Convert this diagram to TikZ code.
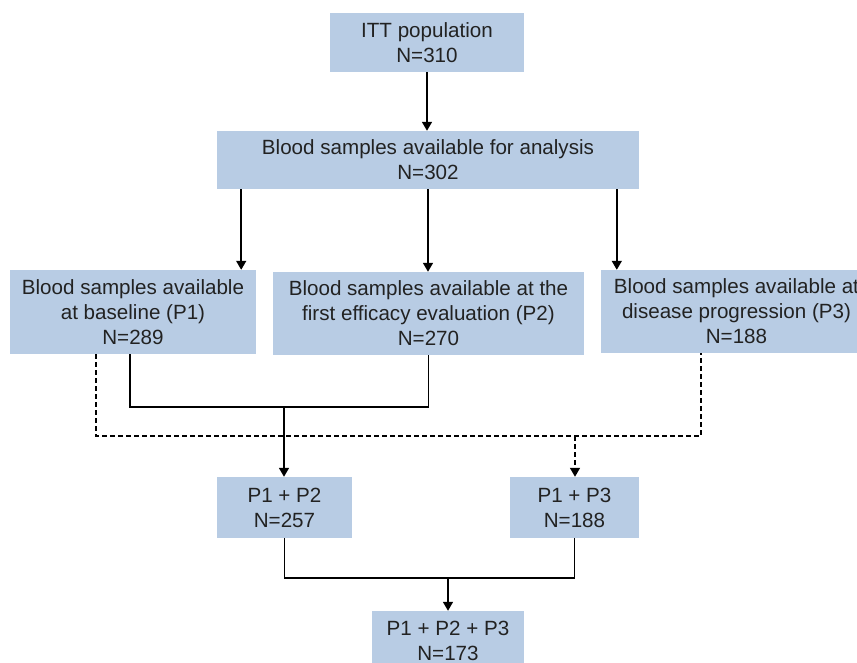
\documentclass[tikz,border=0pt]{standalone}
\usepackage{fontspec}
\setmainfont{Liberation Sans}
\usetikzlibrary{arrows.meta}
\definecolor{boxblue}{RGB}{184,204,228}
\definecolor{textgray}{RGB}{34,34,34}
\begin{document}
\begin{tikzpicture}[x=1pt,y=-1pt,
    box/.style={fill=boxblue, text=textgray, align=center, inner sep=0pt,
        font=\fontsize{20.6}{25}\selectfont},
    link/.style={line width=1.5pt, black},
    arr/.style={link, -{Triangle[length=9pt,width=10pt]}},
    dlink/.style={link, dash pattern=on 5pt off 3pt}]

    % Fix the page to the reference size
    \useasboundingbox (0,0) rectangle (857,663);
    \clip (0,0) rectangle (857,663);

    % Top two boxes
    \node[box, minimum width=194pt, minimum height=59pt] (itt) at (427,42.5) {ITT population\\N=310};
    \node[box, minimum width=422pt, minimum height=58pt] (avail) at (428,160) {Blood samples available for analysis\\N=302};

    % The three time points
    \node[box, minimum width=246pt, minimum height=84pt] (p1) at (133,312) {Blood samples available\\at baseline (P1)\\N=289};
    \node[box, minimum width=311pt, minimum height=83pt] (p2) at (428.5,313.5) {Blood samples available at the\\first efficacy evaluation (P2)\\N=270};
    \node[box, minimum width=271pt, minimum height=83pt] (p3) at (736.5,311.5) {Blood samples available at\\disease progression (P3)\\N=188};

    % Pairs and the full set
    \node[box, minimum width=135pt, minimum height=61pt] (p12) at (284.5,507.5) {P1 + P2\\N=257};
    \node[box, minimum width=129pt, minimum height=61pt] (p13) at (574.5,507.5) {P1 + P3\\N=188};
    \node[box, minimum width=152pt, minimum height=60pt] (all) at (448,641) {P1 + P2 + P3\\N=173};

    % Junction points
    \coordinate (j12) at (284,407);
    \coordinate (j13) at (575,436);
    \coordinate (j123) at (448,578);
    \coordinate (a1) at ([xshift=-15pt]p1.north east);
    \coordinate (a3) at ([xshift=16pt]p3.north west);

    % Arrows down from the top
    \draw[arr] (itt.south) -- (itt.south |- avail.north);
    \draw[arr] (avail.south -| a1) -- (a1);
    \draw[arr] (avail.south) -- (avail.south |- p2.north);
    \draw[arr] (avail.south -| a3) -- (a3);

    % P1 + P2 (solid)
    \draw[link] ([xshift=-3pt]p1.south) |- (j12) -| (p2.south);
    \draw[arr] (j12) -- (j12 |- p12.north);

    % P1 + P3 (dashed)
    \draw[dlink] ([xshift=-37pt]p1.south) |- (j13) -| ([xshift=-35.5pt]p3.south);
    \draw[dlink, -{Triangle[length=9pt,width=10pt]}] (j13) -- (j13 |- p13.north);

    % All three
    \draw[link] (p12.south) |- (j123) -| (p13.south);
    \draw[arr] (j123) -- (all.north);

\end{tikzpicture}
\end{document}
